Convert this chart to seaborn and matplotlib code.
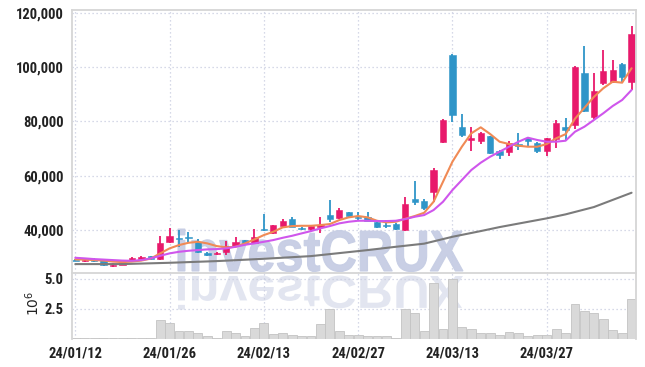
import numpy as np
import pandas as pd
import matplotlib
matplotlib.use("Agg")
import matplotlib.pyplot as plt
import seaborn as sns
from matplotlib.textpath import TextPath
from matplotlib.patches import PathPatch
from matplotlib.font_manager import FontProperties, fontManager
from matplotlib.transforms import Affine2D, IdentityTransform
from matplotlib.ticker import FixedLocator, FuncFormatter

# ---------------- data ----------------
opens = [29100, 28700, 29100, 29000, 26800, 27300, 28600, 29500, 30400, 29300,
         35500, 37100, 37500, 35700, 31500, 31100, 32000, 34100, 36300, 35300,
         40500, 38800, 41500, 44000, 40800, 40300, 41200, 45500, 44500, 46500,
         44900, 44900, 43000, 41800, 42200, 40000, 51400, 50800, 54100, 72500,
         104500, 78000, 73200, 72900, 74600, 69100, 68600, 71700, 73800, 72200,
         69200, 73500, 78000, 78700, 97900, 81500, 94300, 94600, 101100, 94600]
closes = [28700, 29000, 28800, 27000, 27200, 28000, 29900, 30000, 29300, 35300,
          37800, 36700, 37000, 32000, 30900, 31600, 34100, 35500, 34900, 37300,
          40000, 41700, 43300, 41200, 40300, 41500, 41700, 44000, 47400, 45200,
          44400, 43400, 41000, 41500, 40300, 49600, 50300, 48000, 62100, 80500,
          82400, 75000, 73800, 75600, 68300, 67600, 71900, 71000, 72900, 69200,
          73800, 79400, 76800, 100100, 83800, 91300, 98700, 98900, 96500, 112200]
highs = [29300, 29300, 29600, 29200, 27900, 28200, 30000, 30300, 30600, 38000,
         40700, 40200, 39400, 36600, 32000, 32000, 36000, 37400, 36500, 40300,
         45800, 42000, 44000, 44800, 41200, 42000, 44900, 51000, 48000, 46800,
         46700, 46600, 43200, 43700, 42500, 52000, 58000, 51400, 62800, 81000,
         104800, 82700, 78000, 76200, 74800, 69400, 72900, 75800, 74400, 72500,
         74000, 80500, 81400, 100500, 107800, 97700, 106300, 102600, 101500, 115100]
lows = [28500, 28200, 28200, 26800, 26300, 27100, 28500, 29300, 29000, 29000,
        35300, 33800, 35100, 31600, 30500, 30800, 30800, 33800, 34700, 35000,
        39800, 38600, 41000, 41000, 40000, 39600, 39000, 43000, 44200, 44900,
        43700, 43200, 40800, 40600, 40000, 39600, 49200, 47400, 50400, 72000,
        79900, 74400, 69200, 71700, 68000, 66000, 67300, 69500, 70700, 68200,
        67300, 70200, 73200, 77100, 83500, 80900, 93400, 94300, 94600, 91600]
volumes = [30000, 30000, 20000, 80000, 20000, 20000, 80000, 20000, 20000, 1540000,
           1270000, 630000, 630000, 430000, 210000, 70000, 630000, 460000, 210000, 850000,
           1270000, 370000, 430000, 270000, 180000, 180000, 1180000, 2430000, 630000, 290000,
           290000, 210000, 210000, 210000, 80000, 2430000, 2100000, 630000, 4650000, 770000,
           4930000, 990000, 770000, 430000, 430000, 270000, 520000, 430000, 180000, 270000,
           270000, 770000, 460000, 2880000, 2290000, 2100000, 1600000, 710000, 460000, 3270000]
ma5 = [29210, 29140, 28950, 28770, 28400, 28210, 28400, 28770, 29500, 31420,
       33260, 34480, 35320, 35690, 35100, 34110, 33630, 33850, 35100, 36570,
       38160, 39370, 40990, 41470, 41580, 41580, 41840, 42210, 43680, 44680,
       45160, 44680, 43430, 42840, 43060, 44160, 45160, 46370, 50420, 57790,
       65160, 70680, 75610, 77820, 75360, 72520, 71670, 71050, 70680, 70680,
       71670, 73770, 75300, 81000, 85000, 89000, 92190, 94620, 94250, 99560]
ma10 = [29800, 29580, 29320, 29140, 28950, 28770, 28690, 28950, 29580, 30530,
        31420, 32010, 32380, 32630, 32890, 33000, 33260, 33850, 34590, 35100,
        35690, 36320, 37160, 37900, 38780, 39630, 40630, 41470, 42470, 43060,
        43430, 43430, 43310, 43310, 43430, 44050, 44900, 45520, 47370, 50420,
        54730, 58420, 62100, 64790, 67000, 68840, 70680, 72520, 74000, 73150,
        72520, 72520, 72890, 76200, 78050, 80510, 82980, 85670, 87880, 91560]
ma60_pos = [0, 5, 10, 15, 20, 25, 31, 34, 37, 40, 43, 45, 50, 52, 55, 59]
ma60 = [27480, 27480, 27960, 28580, 29430, 30420, 32630, 33850, 35000, 37530,
        39630, 41100, 44310, 45780, 48470, 53740]
tick_pos = [0, 10, 20, 30, 40, 50]
tick_labels = ["24/01/12", "24/01/26", "24/02/13", "24/02/27", "24/03/13", "24/03/27"]
price_ticks = [40000, 60000, 80000, 100000, 120000]
vol_ticks = [2.5e6, 5.0e6]

# ---------------- style ----------------
sns.set_theme(style="white")
names = {f.name for f in fontManager.ttflist}
tick_family, tick_size = "Liberation Sans", 9.2
for fam, size in [("Liberation Sans Narrow", 10.5), ("Roboto Condensed", 10.5),
                  ("DejaVu Sans Condensed", 8.8)]:
    if fam in names:
        tick_family, tick_size = fam, size
        break
plt.rcParams["font.family"] = [tick_family, "DejaVu Sans"]

UP = "#e8196b"
DOWN = "#2f95c8"
GRID = "#c9cde0"
SPINE = "#d6d6d6"
TXT = "#222222"

W, H = 645, 367
fig = plt.figure(figsize=(W / 100, H / 100), dpi=100)
L, R = 72, 636
ax = fig.add_axes([L / W, 1 - 273 / H, (R - L) / W, (273 - 10) / H])
axv = fig.add_axes([L / W, 1 - 338.5 / H, (R - L) / W, (338.5 - 273) / H], sharex=ax)
axv.set_facecolor("none")

df = pd.DataFrame({"idx": np.arange(len(closes)), "open": opens, "high": highs,
                   "low": lows, "close": closes, "volume": volumes,
                   "ma5": ma5, "ma10": ma10})
df["up"] = df["close"] >= df["open"]
df["color"] = np.where(df["up"], UP, DOWN)

# watermark
fp = FontProperties(family="Liberation Sans", weight="bold")
tp = TextPath((0, 0), "investCRUX", size=1, prop=fp)
cap = TextPath((0, 0), "CRUX", size=1, prop=fp).get_extents()
ext = tp.get_extents()
sx = 285 / ext.width
sy = 41 / cap.height
x0 = 178 - ext.x0 * sx
wm = PathPatch(tp, transform=Affine2D().scale(sx, sy).translate(x0, H - 271) + IdentityTransform(),
               facecolor="#c6cde4", edgecolor="#c6cde4", linewidth=0.8, alpha=0.95,
               zorder=0.6, clip_on=False)
ax.add_artist(wm)
refl = PathPatch(tp, transform=Affine2D().scale(sx, -sy * 0.8).translate(x0, H - 276) + IdentityTransform(),
                 facecolor="#dde1ee", edgecolor="none", alpha=0.85, zorder=0.6, clip_on=False)
ax.add_artist(refl)

# candles
body_lo = df[["open", "close"]].min(axis=1)
body_h = (df["open"] - df["close"]).abs().clip(lower=350)
ax.vlines(df["idx"], df["low"], df["high"], colors=df["color"], linewidth=1.3, zorder=2)
ax.bar(df["idx"], body_h, bottom=body_lo, width=0.68, color=df["color"],
       edgecolor=df["color"], linewidth=0.4, zorder=2.5)

# moving averages
sns.lineplot(data=df, x="idx", y="ma5", ax=ax, color="#f08a55", linewidth=1.5, zorder=3)
sns.lineplot(data=df, x="idx", y="ma10", ax=ax, color="#cf56ec", linewidth=1.5, zorder=3)
sns.lineplot(x=ma60_pos, y=ma60, ax=ax, color="#7b7b7b", linewidth=1.5, zorder=3)

# volume
axv.bar(df["idx"], df["volume"], width=0.95, color="#d9d9d9", edgecolor="#c3c3c3",
        linewidth=0.6, zorder=2)

# axes formatting
ax.set_xlim(-0.35, 59.47)
ax.set_ylim(24200, 121000)
axv.set_ylim(0, 5.46e6)
for a in (ax, axv):
    a.set_xlabel("")
    a.set_ylabel("")
    a.set_axisbelow(True)
    a.grid(True, linestyle=(0, (1, 2.2)), color=GRID, linewidth=0.9)
    a.tick_params(length=0, colors=TXT, pad=6)
ax.yaxis.set_major_locator(FixedLocator(price_ticks))
ax.yaxis.set_major_formatter(FuncFormatter(lambda v, p: f"{int(v):,}"))
axv.yaxis.set_major_locator(FixedLocator(vol_ticks))
axv.yaxis.set_major_formatter(FuncFormatter(lambda v, p: f"{v / 1e6:.1f}"))
axv.xaxis.set_major_locator(FixedLocator(tick_pos))
axv.set_xticklabels(tick_labels)
ax.tick_params(axis="x", labelbottom=False)
for lab in list(ax.get_yticklabels()) + list(axv.get_yticklabels()) + list(axv.get_xticklabels()):
    lab.set_fontweight("bold")
    lab.set_color(TXT)
    lab.set_fontsize(tick_size)

for s in ["left", "right", "top", "bottom"]:
    ax.spines[s].set_visible(True)
    ax.spines[s].set_color(SPINE)
    ax.spines[s].set_linewidth(1.3)
for s in ["left", "right"]:
    axv.spines[s].set_color(SPINE)
    axv.spines[s].set_linewidth(1.3)
axv.spines["top"].set_visible(False)
axv.spines["bottom"].set_visible(False)

fig.text(33 / W, 1 - 303 / H, r"$10^6$", rotation=90, ha="center", va="center",
         fontsize=10, color=TXT, family="DejaVu Sans")

fig.savefig("out.png", dpi=100)
